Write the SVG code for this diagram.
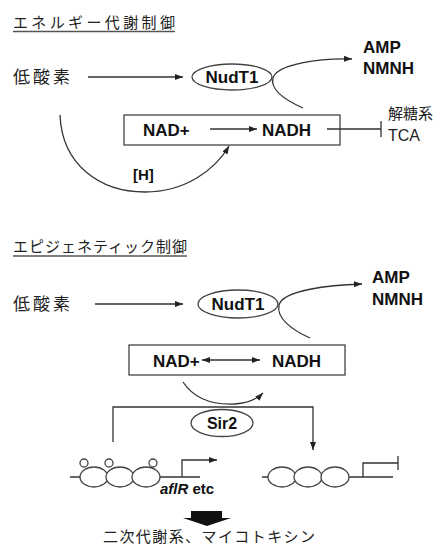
<svg xmlns="http://www.w3.org/2000/svg" width="445" height="547" viewBox="0 0 445 547">
<defs>
<marker id="ah" markerUnits="userSpaceOnUse" markerWidth="8" markerHeight="8" viewBox="0 0 8 8" refX="8" refY="4" orient="auto-start-reverse"><path d="M0,1 L8,4 L0,7 Z" fill="#222"/></marker>
<style>
.ln{fill:none;stroke:#333;stroke-width:1.3}
.jp{font-family:"Noto Sans CJK JP","Liberation Sans",sans-serif;fill:#222}
.b{font-family:"Liberation Sans",Arial,sans-serif;font-weight:bold;fill:#111}
.r{font-family:"Liberation Sans",Arial,sans-serif;fill:#222}
.node{fill:#fff;stroke:#444;stroke-width:1.3}
</style>
</defs>
<rect width="445" height="547" fill="#fff"/>

<g id="title1">
<text class="jp" x="13" y="28" font-size="15" textLength="162">エネルギー代謝制御</text>
<line x1="13" y1="31.5" x2="175" y2="31.5" stroke="#555" stroke-width="1.3"/>
</g>
<g id="hypoxia1"><text class="jp" x="13" y="83" font-size="17" textLength="57">低酸素</text></g>
<g id="nudt1a"><ellipse class="node" cx="232" cy="77" rx="40" ry="13"/><text class="b" x="232" y="83" font-size="17" text-anchor="middle">NudT1</text></g>
<g id="amp1"><text class="b" x="363" y="53" font-size="17">AMP</text><text class="b" x="363" y="74" font-size="17">NMNH</text></g>
<g id="box1"><rect class="node" x="124" y="115" width="216" height="30"/>
<text class="b" x="143" y="136" font-size="17">NAD+</text><text class="b" x="262" y="136" font-size="17">NADH</text></g>
<g id="glyco"><text class="jp" x="388" y="119" font-size="15">解糖系</text><text class="r" x="388" y="141" font-size="16">TCA</text></g>
<g id="h1"><text class="b" x="133" y="180" font-size="15">[H]</text></g>

<g id="title2">
<text class="jp" x="13" y="252" font-size="15" textLength="174">エピジェネティック制御</text>
<line x1="13" y1="256" x2="187" y2="256" stroke="#555" stroke-width="1.3"/>
</g>
<g id="hypoxia2"><text class="jp" x="13" y="310" font-size="17" textLength="57">低酸素</text></g>
<g id="nudt1b"><ellipse class="node" cx="238" cy="304" rx="40" ry="14"/><text class="b" x="238" y="310" font-size="17" text-anchor="middle">NudT1</text></g>
<g id="amp2"><text class="b" x="372" y="283" font-size="17">AMP</text><text class="b" x="372" y="305" font-size="17">NMNH</text></g>
<g id="box2"><rect class="node" x="129" y="345" width="216" height="30"/>
<text class="b" x="153" y="367" font-size="17">NAD+</text><text class="b" x="272" y="367" font-size="17">NADH</text></g>
<g id="sir2"><ellipse class="node" cx="222" cy="423" rx="31" ry="13.5"/><text class="b" x="222" y="429" font-size="16" text-anchor="middle">Sir2</text></g>

<g id="chromatin1">
<line class="ln" x1="70" y1="477" x2="200" y2="477"/>
<ellipse class="node" cx="94" cy="477" rx="14" ry="10"/>
<ellipse class="node" cx="120" cy="477" rx="14" ry="10"/>
<ellipse class="node" cx="146" cy="477" rx="14" ry="10"/>
<circle class="node" cx="84" cy="463" r="4"/>
<circle class="node" cx="109" cy="463" r="4"/>
<circle class="node" cx="153" cy="463" r="4"/>
<path class="ln" d="M182,477 V460 H217" marker-end="url(#ah)"/>
<text x="160" y="494" font-size="15"><tspan class="b" font-style="italic">aflR</tspan><tspan class="b"> etc</tspan></text>
</g>
<g id="chromatin2">
<line class="ln" x1="262" y1="477" x2="393" y2="477"/>
<ellipse class="node" cx="282" cy="477" rx="14" ry="10"/>
<ellipse class="node" cx="308" cy="477" rx="14" ry="10"/>
<ellipse class="node" cx="335" cy="477" rx="14" ry="10"/>
<path class="ln" d="M363,477 V463 H398 M398,456 V470"/>
</g>
<g id="bigarrow"><polygon points="191,511 222,511 222,518 231,518 207,526 183,518 191,518" fill="#111"/></g>
<g id="product"><text class="jp" x="103" y="542" font-size="15" textLength="212">二次代謝系、マイコトキシン</text></g>

<g id="connectors">
<line class="ln" x1="88" y1="77" x2="183" y2="77" marker-end="url(#ah)"/>
<path class="ln" d="M303,108 C285,100 270,90 273,78 C277,64 320,58 352,59" marker-end="url(#ah)"/>
<line class="ln" x1="210" y1="129" x2="257" y2="129" marker-end="url(#ah)"/>
<path class="ln" d="M327,129 H381 M381,121 V137"/>
<path class="ln" d="M60,115 C62,165 100,192 145,192 C185,192 215,170 229,146" marker-end="url(#ah)"/>
<line class="ln" x1="95" y1="304" x2="183" y2="304" marker-end="url(#ah)"/>
<path class="ln" d="M310,338 C292,330 276,318 279,305 C283,290 330,285 362,284" marker-end="url(#ah)"/>
<line class="ln" x1="202" y1="360" x2="260" y2="360" marker-start="url(#ah)" marker-end="url(#ah)"/>
<path class="ln" d="M183,382 C195,400 215,405 235,404 C250,403 258,398 263,393" marker-end="url(#ah)"/>
<path class="ln" d="M113,442 V407 H313 V450" marker-end="url(#ah)"/>
</g>
</svg>
